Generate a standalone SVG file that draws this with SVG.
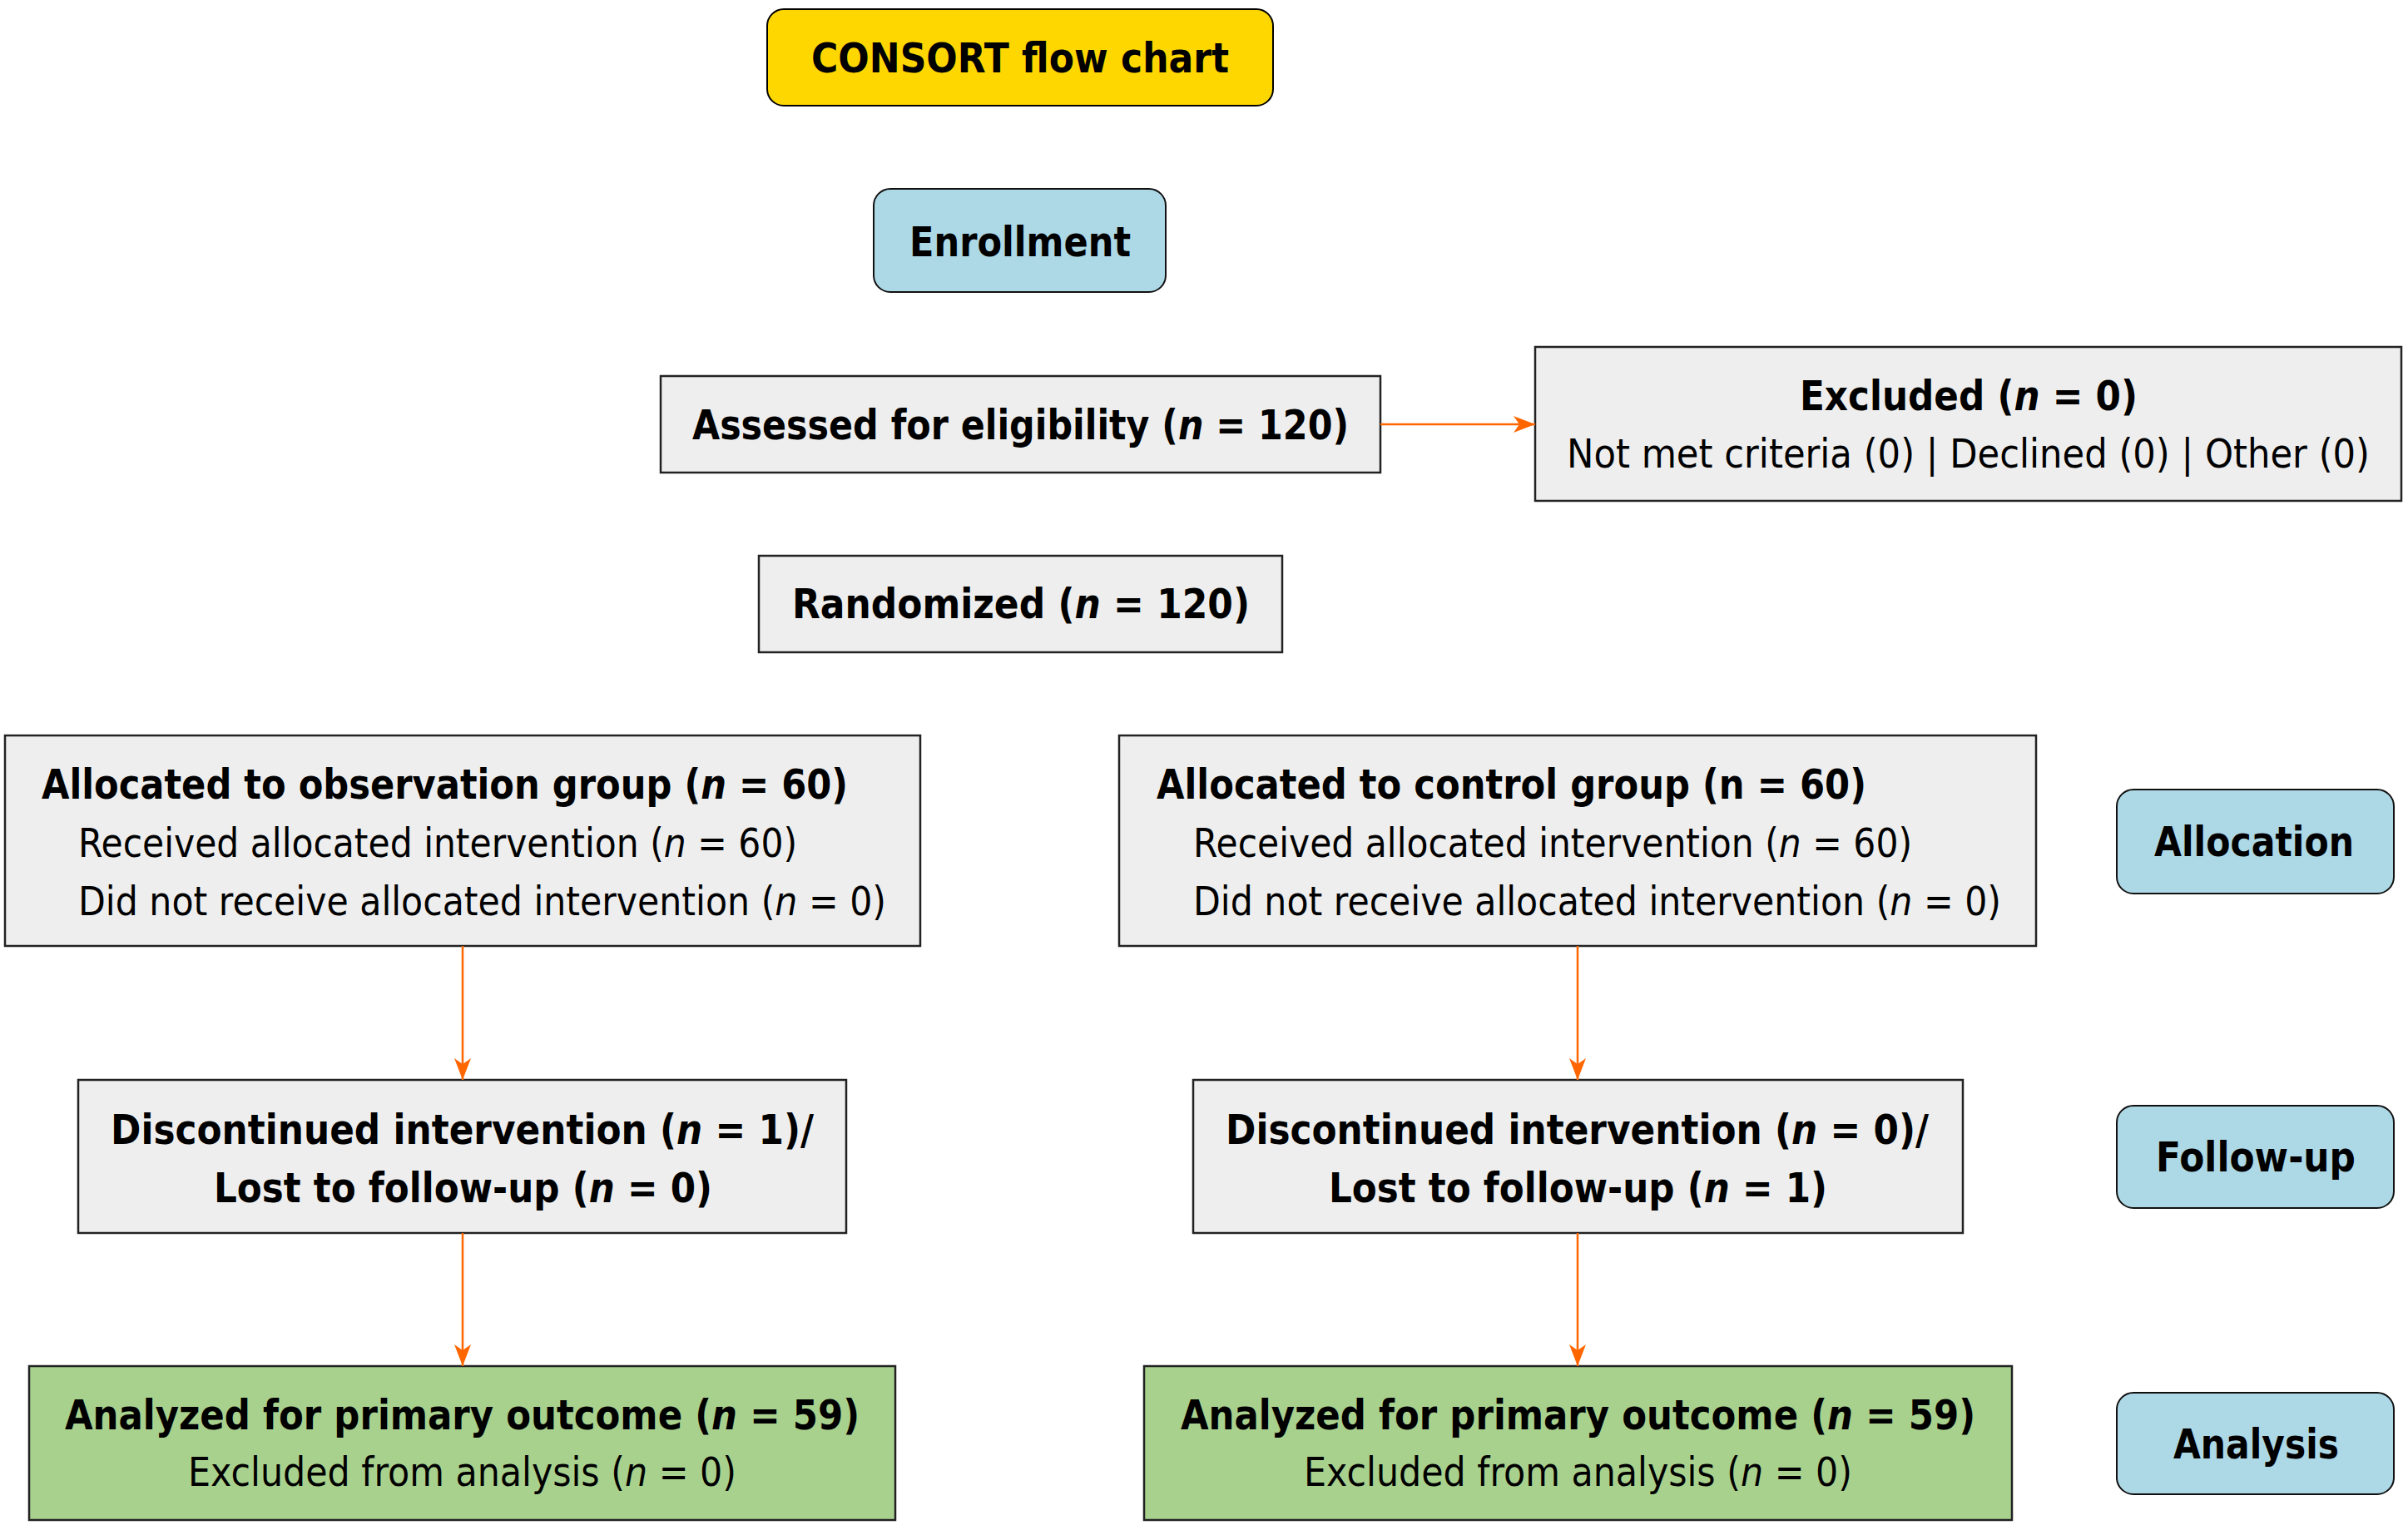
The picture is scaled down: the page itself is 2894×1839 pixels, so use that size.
<svg xmlns="http://www.w3.org/2000/svg" width="2894" height="1839" viewBox="0 0 2894 1839">
<style>
  text { font-family: "DejaVu Sans", "Liberation Sans", sans-serif; fill: #000; }
  .b { font-size: 50px; font-weight: bold; }
  .r { font-size: 48px; font-weight: normal; }
  .i { font-style: italic; }
  .title { fill: #FFD700; stroke: #000; stroke-width: 2; }
  .stage { fill: #ADD8E6; stroke: #111; stroke-width: 2; }
  .box { fill: #EEEEEE; stroke: #222; stroke-width: 2.5; }
  .green { fill: #A9D18E; stroke: #222; stroke-width: 2.5; }
  .conn { stroke: #FF6600; stroke-width: 2.5; fill: none; marker-end: url(#arrow); }
</style>
<defs>
  <marker id="arrow" markerUnits="userSpaceOnUse" markerWidth="28" markerHeight="22" refX="26" refY="10" orient="auto">
    <path d="M0,0 L26,10 L0,20 L7,10 Z" fill="#FF6600"/>
  </marker>
</defs>
<rect width="2894" height="1839" fill="#FFFFFF"/>

<g id="title">
  <rect class="title" x="922" y="11" width="608" height="116" rx="20"/>
  <text class="b" x="975" y="87" textLength="502" lengthAdjust="spacingAndGlyphs">CONSORT flow chart</text>
</g>
<g id="enrollment">
  <rect class="stage" x="1050" y="227" width="351" height="124" rx="20"/>
  <text class="b" x="1093" y="308" textLength="266" lengthAdjust="spacingAndGlyphs">Enrollment</text>
</g>
<g id="assessed">
  <rect class="box" x="794" y="452" width="865" height="116"/>
  <text class="b" x="832" y="528" textLength="789" lengthAdjust="spacingAndGlyphs">Assessed for eligibility (<tspan class="i">n</tspan> = 120)</text>
</g>
<g id="excluded">
  <rect class="box" x="1845" y="417" width="1041" height="185"/>
  <text class="b" x="2163" y="493" textLength="406" lengthAdjust="spacingAndGlyphs">Excluded (<tspan class="i">n</tspan> = 0)</text>
  <text class="r" x="1883" y="562" textLength="965" lengthAdjust="spacingAndGlyphs">Not met criteria (0) | Declined (0) | Other (0)</text>
</g>
<g id="randomized">
  <rect class="box" x="912" y="668" width="629" height="116"/>
  <text class="b" x="952" y="743" textLength="550" lengthAdjust="spacingAndGlyphs">Randomized (<tspan class="i">n</tspan> = 120)</text>
</g>
<g id="alloc-obs">
  <rect class="box" x="6" y="884" width="1100" height="253"/>
  <text class="b" x="50" y="960" textLength="969" lengthAdjust="spacingAndGlyphs">Allocated to observation group (<tspan class="i">n</tspan> = 60)</text>
  <text class="r" x="94" y="1030" textLength="864" lengthAdjust="spacingAndGlyphs">Received allocated intervention (<tspan class="i">n</tspan> = 60)</text>
  <text class="r" x="94" y="1100" textLength="971" lengthAdjust="spacingAndGlyphs">Did not receive allocated intervention (<tspan class="i">n</tspan> = 0)</text>
</g>
<g id="alloc-control">
  <rect class="box" x="1345" y="884" width="1102" height="253"/>
  <text class="b" x="1390" y="960" textLength="853" lengthAdjust="spacingAndGlyphs">Allocated to control group (n = 60)</text>
  <text class="r" x="1434" y="1030" textLength="864" lengthAdjust="spacingAndGlyphs">Received allocated intervention (<tspan class="i">n</tspan> = 60)</text>
  <text class="r" x="1434" y="1100" textLength="971" lengthAdjust="spacingAndGlyphs">Did not receive allocated intervention (<tspan class="i">n</tspan> = 0)</text>
</g>
<g id="allocation">
  <rect class="stage" x="2544" y="949" width="333" height="125" rx="20"/>
  <text class="b" x="2589" y="1029" textLength="240" lengthAdjust="spacingAndGlyphs">Allocation</text>
</g>
<g id="disc-obs">
  <rect class="box" x="94" y="1298" width="923" height="184"/>
  <text class="b" x="133" y="1375" textLength="845" lengthAdjust="spacingAndGlyphs">Discontinued intervention (<tspan class="i">n</tspan> = 1)/</text>
  <text class="b" x="257" y="1445" textLength="599" lengthAdjust="spacingAndGlyphs">Lost to follow-up (<tspan class="i">n</tspan> = 0)</text>
</g>
<g id="disc-control">
  <rect class="box" x="1434" y="1298" width="925" height="184"/>
  <text class="b" x="1473" y="1375" textLength="845" lengthAdjust="spacingAndGlyphs">Discontinued intervention (<tspan class="i">n</tspan> = 0)/</text>
  <text class="b" x="1597" y="1445" textLength="599" lengthAdjust="spacingAndGlyphs">Lost to follow-up (<tspan class="i">n</tspan> = 1)</text>
</g>
<g id="followup">
  <rect class="stage" x="2544" y="1329" width="333" height="123" rx="20"/>
  <text class="b" x="2591" y="1408" textLength="240" lengthAdjust="spacingAndGlyphs">Follow-up</text>
</g>
<g id="analyzed-obs">
  <rect class="green" x="35" y="1642" width="1041" height="185"/>
  <text class="b" x="78" y="1718" textLength="955" lengthAdjust="spacingAndGlyphs">Analyzed for primary outcome (<tspan class="i">n</tspan> = 59)</text>
  <text class="r" x="226" y="1786" textLength="659" lengthAdjust="spacingAndGlyphs">Excluded from analysis (<tspan class="i">n</tspan> = 0)</text>
</g>
<g id="analyzed-control">
  <rect class="green" x="1375" y="1642" width="1043" height="185"/>
  <text class="b" x="1419" y="1718" textLength="955" lengthAdjust="spacingAndGlyphs">Analyzed for primary outcome (<tspan class="i">n</tspan> = 59)</text>
  <text class="r" x="1567" y="1786" textLength="659" lengthAdjust="spacingAndGlyphs">Excluded from analysis (<tspan class="i">n</tspan> = 0)</text>
</g>
<g id="analysis">
  <rect class="stage" x="2544" y="1674" width="333" height="122" rx="20"/>
  <text class="b" x="2612" y="1753" textLength="199" lengthAdjust="spacingAndGlyphs">Analysis</text>
</g>

<g id="connectors">
  <line class="conn" x1="1659" y1="510" x2="1845" y2="510"/>
  <line class="conn" x1="556" y1="1137" x2="556" y2="1298"/>
  <line class="conn" x1="1896" y1="1137" x2="1896" y2="1298"/>
  <line class="conn" x1="556" y1="1482" x2="556" y2="1642"/>
  <line class="conn" x1="1896" y1="1482" x2="1896" y2="1642"/>
</g>
</svg>
